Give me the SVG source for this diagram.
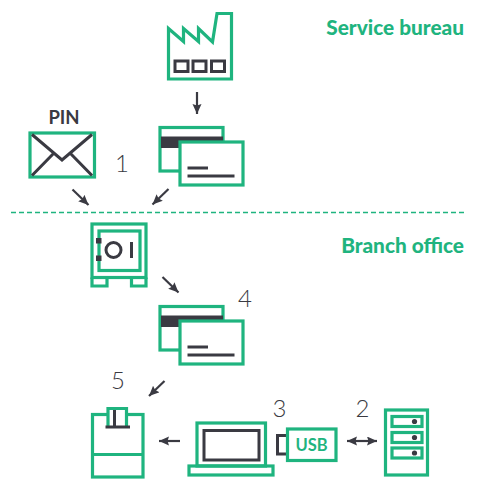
<svg xmlns="http://www.w3.org/2000/svg" width="480" height="501" viewBox="0 0 480 501">
<style>
.g{fill:none;stroke:#1fb47f;stroke-width:3.2}
.gw{fill:#fff;stroke:#1fb47f;stroke-width:3.2}
.d{fill:none;stroke:#3a3a42;stroke-width:3}
.t{stroke:#3a3a42;stroke-width:2.2;fill:none}
.k{fill:#3a3a42}
.n{font-family:Lato,"Noto Sans",sans-serif;font-size:24px;font-weight:300;fill:#3a3a42;text-anchor:middle}
.h{font-family:Lato,"Noto Sans",sans-serif;font-size:20.800px;font-weight:900;fill:#1fb47f;text-anchor:end}
</style>
<defs>
<marker id="a" markerUnits="userSpaceOnUse" markerWidth="11" markerHeight="10" refX="10" refY="4.500" orient="auto-start-reverse"><path d="M0 0L10 4.500L0 9L1.500 4.500Z" fill="#3a3a42"/></marker>
<g id="card">
<rect class="g" x="160" y="127.500" width="63" height="43.500"/>
<rect class="k" x="161" y="136.500" width="62" height="11.500"/>
<rect class="gw" x="180" y="142" width="63" height="43"/>
<path class="d" d="M187.500 168H208M187.500 176H234.500"/>
</g>
</defs>
<text class="h" x="464" y="35">Service bureau</text>
<text class="h" x="464" y="253">Branch office</text>
<path d="M11 212.500H465" fill="none" stroke="#1fb47f" stroke-width="1.500" stroke-dasharray="5 3"/>
<g id="factory">
<path class="g" d="M168.500 79V28.500L183.500 41.500V28.500L198.500 41.500V28.500L212.500 42L217 13.500H231.500V79Z"/>
<path class="d" d="M175 61H188V71.500H175ZM193 61H206V71.500H193ZM211.500 61H224.500V71.500H211.500Z"/>
</g>
<g id="pin">
<rect class="g" x="30" y="133" width="64.500" height="44"/>
<path class="d" d="M32 134.500L62 160L92 134.500M32 175.500L54 153M92 175.500L70 153"/>
<text x="64" y="124" font-family="Lato,'Noto Sans',sans-serif" font-size="18.500" font-weight="700" fill="#3a3a42" text-anchor="middle">PIN</text>
</g>
<g id="card1"><use href="#card"/></g>
<g id="safe">
<rect class="g" x="92" y="224" width="54" height="53.500"/>
<rect class="g" x="99" y="231" width="41" height="39.500"/>
<path class="g" d="M92 277.500V286H107V277.500M131.500 277.500V286H146V277.500"/>
<rect class="k" x="96" y="238" width="5.500" height="5.500"/>
<rect class="k" x="96" y="255.500" width="5.500" height="5.500"/>
<circle class="d" cx="113.500" cy="250" r="7.500"/>
<path class="d" d="M131.500 242V258"/>
</g>
<g id="card2"><use href="#card" y="179"/></g>
<g id="printer">
<rect class="g" x="92.500" y="414.500" width="50.500" height="62.500"/>
<path class="g" d="M92.500 454.500H143"/>
<path class="gw" d="M108 427V408.500H126.500V427"/>
<path class="d" d="M105.500 427H130M114.500 410V427"/>
</g>
<g id="laptop">
<rect class="g" x="197" y="423" width="68.500" height="43"/>
<rect class="d" x="204" y="430.500" width="55" height="29.500"/>
<rect class="g" x="189" y="466" width="84" height="9"/>
</g>
<g id="usb">
<path class="d" d="M287 435.500H277.500V454H287"/>
<rect class="g" x="287.500" y="429" width="48.500" height="31.500"/>
<text x="311.500" y="450.500" font-family="Lato,'Noto Sans',sans-serif" font-size="16.500" font-weight="700" fill="#1fb47f" text-anchor="middle">USB</text>
</g>
<g id="server">
<rect class="g" x="385.500" y="410" width="42" height="65"/>
<rect class="g" x="392" y="416.500" width="30" height="10"/>
<rect class="g" x="392" y="432.500" width="30" height="10"/>
<rect class="g" x="392" y="448" width="30" height="10"/>
<circle class="k" cx="414.500" cy="421.500" r="2.600"/>
<circle class="k" cx="414.500" cy="437.500" r="2.600"/>
<circle class="k" cx="414.500" cy="453" r="2.600"/>
</g>
<g id="connectors" class="t">
<path marker-end="url(#a)" d="M197 92V114"/>
<path marker-end="url(#a)" d="M72.500 189.500L88.500 205"/>
<path marker-end="url(#a)" d="M168.500 189L152.500 204.500"/>
<path marker-end="url(#a)" d="M162.500 277L178.500 292.500"/>
<path marker-end="url(#a)" d="M164.500 381L149 396"/>
<path marker-end="url(#a)" d="M180 441H159"/>
<path marker-start="url(#a)" marker-end="url(#a)" d="M347 441H377"/>
</g>
<text class="n" x="122" y="172">1</text>
<text class="n" x="245" y="307">4</text>
<text class="n" x="118" y="389">5</text>
<text class="n" x="279.500" y="417">3</text>
<text class="n" x="362.500" y="417">2</text>
</svg>
